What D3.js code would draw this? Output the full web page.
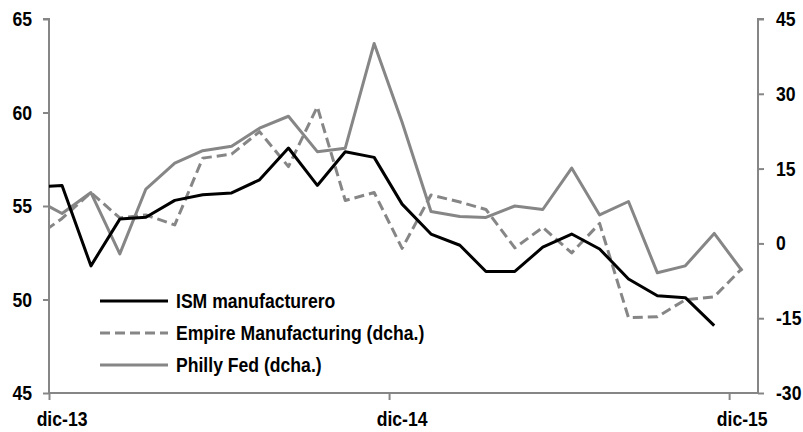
<!DOCTYPE html>
<html>
<head>
<meta charset="utf-8">
<script src="https://cdn.jsdelivr.net/npm/d3@7"></script>
<style>
  body { margin: 0; background: #fff; }
  text { font-family: "Liberation Sans Narrow", "Arial Narrow", sans-serif; font-weight: bold; fill: #000; font-size: 20px; }
</style>
</head>
<body>
<svg id="chart" width="803" height="432"></svg>
<script>
// monthly data, Nov-13 .. Dec-15 (plotted mid-month)
const months = ["2013-11","2013-12","2014-01","2014-02","2014-03","2014-04","2014-05","2014-06",
  "2014-07","2014-08","2014-09","2014-10","2014-11","2014-12","2015-01","2015-02","2015-03",
  "2015-04","2015-05","2015-06","2015-07","2015-08","2015-09","2015-10","2015-11","2015-12"];

const ism = [56.0, 56.1, 51.8, 54.3, 54.4, 55.3, 55.6, 55.7, 56.4, 58.1, 56.1, 57.9, 57.6,
  55.1, 53.5, 52.9, 51.5, 51.5, 52.8, 53.5, 52.7, 51.1, 50.2, 50.1, 48.6, null];

const empire = [1.0, 5.0, 10.2, 5.1, 5.7, 3.7, 17.1, 17.9, 22.4, 15.4, 27.4, 8.6, 10.2,
  -1.0, 9.7, 8.3, 6.8, -0.9, 3.2, -1.9, 4.0, -14.9, -14.7, -11.3, -10.7, -5.0];

const philly = [9.0, 6.0, 10.2, -2.1, 10.9, 16.1, 18.6, 19.5, 23.1, 25.5, 18.4, 19.1, 40.1,
  24.3, 6.4, 5.4, 5.2, 7.5, 6.8, 15.1, 5.7, 8.4, -5.9, -4.5, 2.0, -5.5];

const leftTicks = [45, 50, 55, 60, 65];
const rightTicks = [-30, -15, 0, 15, 30, 45];
const xTickDates = ["2013-12-01", "2014-12-01", "2015-12-01"];
const xTickLabels = ["dic-13", "dic-14", "dic-15"];
const legendNames = ["ISM manufacturero", "Empire Manufacturing (dcha.)", "Philly Fed (dcha.)"];

const grey = "#868686";
const svg = d3.select("#chart");
const mLeft = 49, mRight = 758, mTop = 19, mBottom = 393;
const squeeze = 0.88; // a little taller than plain narrow

const parse = d3.timeParse("%Y-%m-%d");
const dates = months.map(m => parse(m + "-15"));

const x = d3.scaleTime()
  .domain([parse("2013-12-01"), parse("2016-01-01")])
  .range([mLeft, mRight]);
const yL = d3.scaleLinear().domain([45, 65]).range([mBottom, mTop]);
const yR = d3.scaleLinear().domain([-30, 45]).range([mBottom, mTop]);

// condensed text placed at (tx, ty)
function label(parent, tx, ty, str, anchor) {
  parent.append("g")
    .attr("transform", `translate(${tx},${ty}) scale(${squeeze},1)`)
    .append("text")
    .attr("dy", "0.35em")
    .attr("text-anchor", anchor)
    .text(str);
}

svg.append("clipPath").attr("id", "plot")
  .append("rect").attr("x", mLeft).attr("y", 0).attr("width", mRight - mLeft).attr("height", 432);

// axes
const axL = svg.append("g").attr("transform", `translate(${mLeft},0)`)
  .call(d3.axisLeft(yL).tickValues(leftTicks).tickSize(6).tickFormat(""));
const axR = svg.append("g").attr("transform", `translate(${mRight},0)`)
  .call(d3.axisRight(yR).tickValues(rightTicks).tickSize(6).tickFormat(""));
const axB = svg.append("g").attr("transform", `translate(0,${mBottom})`)
  .call(d3.axisBottom(x).tickValues(xTickDates.map(parse)).tickSize(7).tickFormat(""));
[axL, axR, axB].forEach(g => {
  g.select(".domain").attr("stroke", grey).attr("stroke-width", 2);
  g.selectAll(".tick line").attr("stroke", grey).attr("stroke-width", 2);
});
axL.select(".domain").attr("d", `M-6,${mTop}H0V${mBottom}`);
axR.select(".domain").attr("d", `M6,${mTop}H0V${mBottom}`);
axB.select(".domain").attr("d", `M${mLeft},0H${mRight}`);

const labels = svg.append("g");
leftTicks.forEach(d => label(labels, 32, yL(d), d, "end"));
rightTicks.forEach(d => label(labels, 776, yR(d), d, "start"));
xTickLabels.forEach((d, i) =>
  label(labels, x(d3.timeDay.offset(parse(xTickDates[i]), 14)), 419, d, "middle"));

// lines
const lineL = d3.line().defined(d => d[1] != null).x(d => x(d[0])).y(d => yL(d[1]));
const lineR = d3.line().defined(d => d[1] != null).x(d => x(d[0])).y(d => yR(d[1]));
const plot = svg.append("g").attr("clip-path", "url(#plot)");

const series = [
  { vals: philly, line: lineR, color: grey, dash: null },
  { vals: empire, line: lineR, color: grey, dash: "10,5" },
  { vals: ism, line: lineL, color: "#000", dash: null }
];
series.forEach(s => {
  plot.append("path")
    .datum(dates.map((d, i) => [d, s.vals[i]]))
    .attr("d", s.line)
    .attr("fill", "none")
    .attr("stroke", s.color)
    .attr("stroke-width", 3)
    .attr("stroke-dasharray", s.dash)
    .attr("stroke-linejoin", "round");
});

// legend
const legend = svg.append("g");
const legStyles = [
  { color: "#000", dash: null },
  { color: grey, dash: "10,5" },
  { color: grey, dash: null }
];
legendNames.forEach((name, i) => {
  const yy = 301 + i * 32;
  legend.append("line")
    .attr("x1", 100).attr("x2", 168).attr("y1", yy).attr("y2", yy)
    .attr("stroke", legStyles[i].color).attr("stroke-width", 3)
    .attr("stroke-dasharray", legStyles[i].dash);
  label(legend, 176, yy, name, "start");
});
</script>
</body>
</html>
